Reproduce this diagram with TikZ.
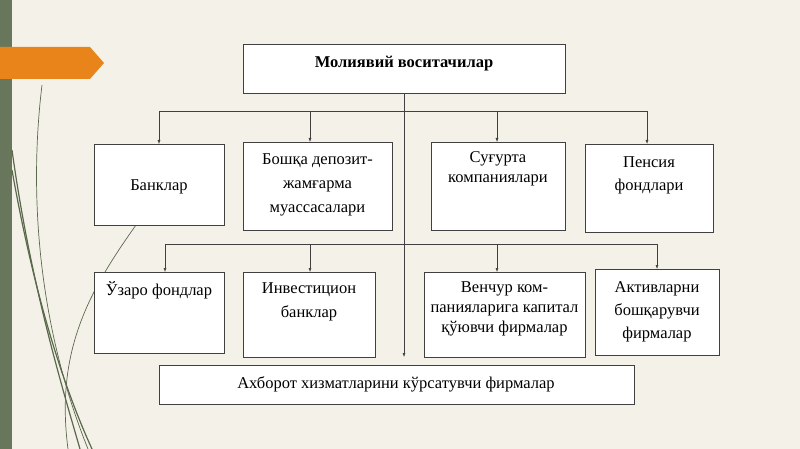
\documentclass[tikz,border=0pt]{standalone}
\usepackage{fontspec}
\setmainfont{Liberation Serif}
\usetikzlibrary{arrows.meta}
\begin{document}
\begin{tikzpicture}[x=1pt,y=-1pt,
  box/.style={draw=black!75,fill=white,line width=0.6pt},
  lbl/.style={font=\fontsize{16.5}{23}\selectfont,align=center,anchor=center,yshift=-2pt},
  arr/.style={-{Latex[length=4pt,width=3pt]},line width=0.5pt,black!75},
  ln/.style={line width=0.5pt,black!75}]
\fill[color={rgb,255:red,244;green,242;blue,232}] (0,0) rectangle (800,449);
\useasboundingbox (0,0) rectangle (800,449);
\fill[color={rgb,255:red,104;green,118;blue,92}] (0,0) rectangle (12,449);
% decorative curves
\begin{scope}[color={rgb,255:red,90;green,105;blue,75}]
\draw[line width=0.7pt] (42,85) .. controls (28,200) and (40,330) .. (88,449);
\draw[line width=1.2pt] (12,150) .. controls (30,280) and (60,380) .. (80,449);
\draw[line width=1.2pt] (12,170) .. controls (35,300) and (65,390) .. (92,449);
\draw[line width=0.7pt] (136,225) .. controls (90,290) and (55,350) .. (68,449);
\end{scope}
\fill[color={rgb,255:red,232;green,132;blue,26}] (0,47) -- (90,47) -- (104,63) -- (90,79) -- (0,79) -- cycle;
% boxes
\draw[box] (243,44) rectangle (565,93);
\coordinate (top) at (404,93);
\node[lbl,font=\fontsize{16.5}{23}\selectfont\bfseries] (tt) at (404,62) {Молиявий воситачилар};
\draw[box] (94,144) rectangle (224,225);
\node[lbl] (b1) at (159,185) {Банклар};
\draw[box] (243,142) rectangle (392,230);
\node[lbl,font=\fontsize{16.5}{24}\selectfont] (b2) at (317.5,183) {Бошқа депозит-\\жамғарма\\муассасалари};
\draw[box] (431,142) rectangle (565,230);
\node[lbl,font=\fontsize{16.5}{20}\selectfont] (b3) at (498,167) {Суғурта\\компаниялари};
\draw[box] (585,144) rectangle (713,232);
\node[lbl] (b4) at (649,173.5) {Пенсия\\фондлари};
\draw[box] (94,272) rectangle (224,353);
\node[lbl] (c1) at (159,288) {Ўзаро фондлар};
\draw[box] (243,272) rectangle (375,357);
\node[lbl,font=\fontsize{16.5}{24}\selectfont] (c2) at (309,300) {Инвестицион\\банклар};
\draw[box] (424,272) rectangle (585,357);
\node[lbl,font=\fontsize{16.5}{20}\selectfont] (c3) at (504.5,307) {Венчур ком-\\панияларига капитал\\қўювчи фирмалар};
\draw[box] (595,269) rectangle (719,355);
\node[lbl] (c4) at (657,310) {Активларни\\бошқарувчи\\фирмалар};
\draw[box] (159,365) rectangle (634,404);
\node[lbl] (d) at (396,382) {Ахборот хизматларини кўрсатувчи фирмалар};
% connectors
\coordinate (h1) at (159,111); \coordinate (h2) at (647,111);
\coordinate (k1) at (165,244); \coordinate (k2) at (657,244);
\draw[ln] (h1) -- (h2);
\draw[ln] (k1) -- (k2);
\draw[arr] (top) -- (404,357);
\draw[arr] (h1) -- (159,144);
\draw[arr] (310,111) -- (310,142);
\draw[arr] (497,111) -- (497,142);
\draw[arr] (h2) -- (647,144);
\draw[arr] (k1) -- (165,272);
\draw[arr] (310,244) -- (310,272);
\draw[arr] (497,244) -- (497,272);
\draw[arr] (k2) -- (657,269);
\end{tikzpicture}
\end{document}
